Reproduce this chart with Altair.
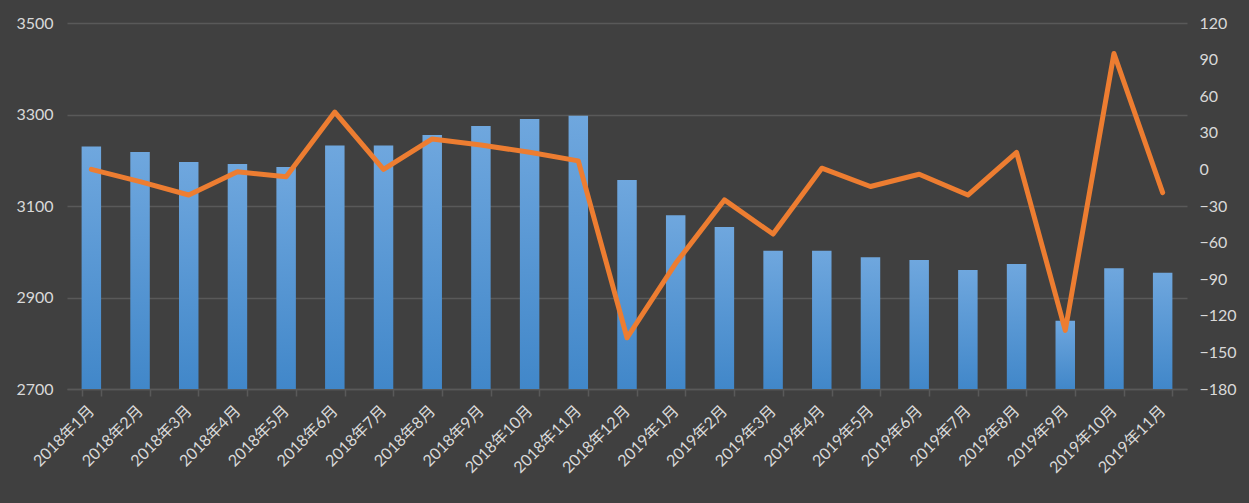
import altair as alt
import pandas as pd

months = ["2018年1月", "2018年2月", "2018年3月", "2018年4月", "2018年5月", "2018年6月",
          "2018年7月", "2018年8月", "2018年9月", "2018年10月", "2018年11月", "2018年12月",
          "2019年1月", "2019年2月", "2019年3月", "2019年4月", "2019年5月", "2019年6月",
          "2019年7月", "2019年8月", "2019年9月", "2019年10月", "2019年11月"]
bar_values = [3230, 3218, 3196, 3192, 3185, 3232, 3232, 3255, 3275, 3290, 3297, 3157,
              3080, 3054, 3002, 3002, 2988, 2982, 2960, 2973, 2849, 2964, 2954]
line_values = [0, -10, -21, -2, -6, 47, 0, 25, 20, 14, 7, -138,
               -77, -25, -53, 1, -14, -4, -21, 14, -132, 95, -19]

df = pd.DataFrame({"month": months, "value": bar_values, "change": line_values})

FONT = "Lato, Noto Sans CJK SC, sans-serif"
LABEL = "#D9D9D9"

x = alt.X("month:N", sort=months, title=None,
          scale=alt.Scale(paddingInner=0.6, paddingOuter=0.3),
          axis=alt.Axis(labelAngle=-45, labelAlign="right", labelBaseline="middle",
                        labelFontSize=16, labelColor=LABEL, labelFont=FONT,
                        labelPadding=12, tickBand="extent", tickColor="#595959",
                        tickSize=7, tickWidth=1.5, domainColor="#595959",
                        domainWidth=1.5, grid=False, labelOverlap=False))

bars = alt.Chart(df).mark_bar(
    color=alt.Gradient(gradient="linear",
                       stops=[alt.GradientStop(color="#6FA7DE", offset=0),
                              alt.GradientStop(color="#4187C9", offset=1)],
                       x1=0, x2=0, y1=0, y2=1)
).encode(
    x=x,
    y=alt.Y("value:Q", title=None,
            scale=alt.Scale(domain=[2700, 3500], nice=False, zero=False),
            axis=alt.Axis(values=[2700, 2900, 3100, 3300, 3500], format="d",
                          labelFontSize=16, labelColor=LABEL, labelFont=FONT,
                          labelPadding=14, ticks=False, domain=False, grid=True,
                          gridColor="#595959", gridWidth=1.5)),
    y2=alt.datum(2700),
)

line = alt.Chart(df).mark_line(color="#ED7D31", strokeWidth=5,
                               strokeJoin="round", strokeCap="round").encode(
    x=x,
    y=alt.Y("change:Q", title=None,
            scale=alt.Scale(domain=[-180, 120], nice=False, zero=False),
            axis=alt.Axis(orient="right", format="d",
                          values=[-180, -150, -120, -90, -60, -30, 0, 30, 60, 90, 120],
                          labelFontSize=16, labelColor=LABEL, labelFont=FONT,
                          labelPadding=12, ticks=False, domain=False, grid=False))
)

chart = alt.layer(bars, line).resolve_scale(y="independent").properties(
    width=1120, height=366,
    background="#404040",
    autosize=alt.AutoSizeParams(type="none"),
    padding={"left": 67, "top": 23, "right": 62, "bottom": 114},
).configure_view(stroke=None)

chart.save("out.html", embed_options={"renderer": "svg", "actions": False})
